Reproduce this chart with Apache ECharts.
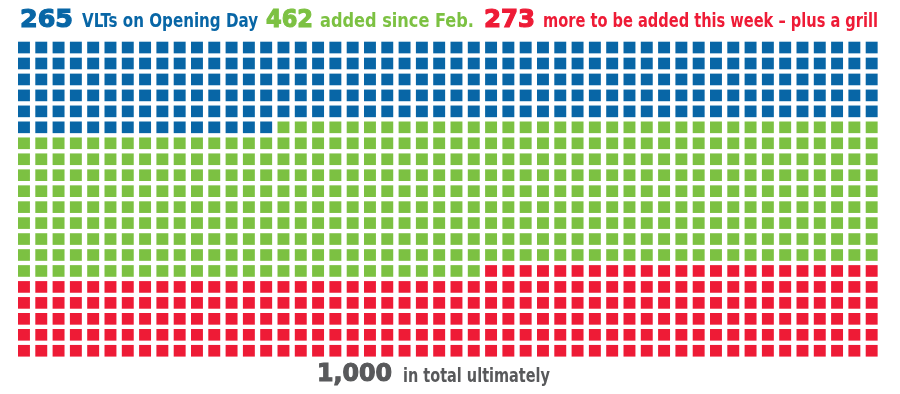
<!DOCTYPE html>
<html><head><meta charset="utf-8">
<script src="https://cdn.jsdelivr.net/npm/echarts@6/dist/echarts.min.js"></script>
<style>html,body{margin:0;padding:0;background:#fff}#c{width:900px;height:394px}</style>
</head><body><div id="c"></div>
<script>
// ---- data ----
const categories = ['VLTs on Opening Day', 'added since Feb.', 'more to be added this week – plus a grill'];
const counts = [265, 462, 273];
const totalLabel = '1,000';
const totalText = 'in total ultimately';
const columns = 50;

// ---- styles / layout ----
const colors = ['#0866a6', '#7cc142', '#ee1b36'];
const grey = '#58595b';
const NUM_FAMILY = 'DejaVu Sans';
const TXT_FAMILY = 'DejaVu Sans Condensed';
const NUM_SIZE = 25, TXT_SIZE = 19;
// [left x, target width] for number and text of each category in the heading
const headLayout = [[20, 53, 82, 176], [266, 47, 320, 154], [484, 51, 543, 335]];
const headBaseline = 29.2;
const footLayout = [317, 75, 403, 147];
const footBaseline = 383.5;

const cells = [];
let idx = 0;
counts.forEach((n, ci) => {
  for (let k = 0; k < n; k++) {
    cells.push([idx % columns, Math.floor(idx / columns), ci]);
    idx++;
  }
});
const rows = Math.ceil(idx / columns);

const mctx = document.createElement('canvas').getContext('2d');
function measure(text, size, family) {
  mctx.font = 'bold ' + size + 'px "' + family + '"';
  return mctx.measureText(text).width;
}
function textEl(text, left, width, baseline, size, family, color, heavy) {
  const w = measure(text, size, family);
  const style = {
    x: 0, y: 0, text: text, fill: color,
    font: 'bold ' + size + 'px "' + family + '"',
    fontFamily: family, fontWeight: 'bold', fontSize: size,
    textAlign: 'left', textVerticalAlign: 'middle', verticalAlign: 'middle'
  };
  if (heavy) { style.stroke = color; style.lineWidth = 1.2; }
  return {
    type: 'text', x: left, y: baseline - size * 0.36,
    scaleX: width / w, scaleY: 1, originX: 0, originY: 0,
    style: style
  };
}

const graphics = [];
counts.forEach((n, ci) => {
  const L = headLayout[ci];
  graphics.push(textEl(String(n), L[0], L[1], headBaseline, NUM_SIZE, NUM_FAMILY, colors[ci], true));
  graphics.push(textEl(categories[ci], L[2], L[3], headBaseline, TXT_SIZE, TXT_FAMILY, colors[ci], false));
});
graphics.push(textEl(totalLabel, footLayout[0], footLayout[1], footBaseline, NUM_SIZE, NUM_FAMILY, grey, true));
graphics.push(textEl(totalText, footLayout[2], footLayout[3], footBaseline, TXT_SIZE, TXT_FAMILY, grey, false));

const chart = echarts.init(document.getElementById('c'), null, {renderer: 'canvas'});
chart.setOption({
  animation: false,
  graphic: graphics,
  grid: {left: 18, top: 41.7, width: columns * 17.3, height: rows * 15.96},
  xAxis: {type: 'value', min: 0, max: columns, show: false},
  yAxis: {type: 'value', min: 0, max: rows, inverse: true, show: false},
  series: [{
    type: 'custom',
    data: cells,
    renderItem: function (params, api) {
      const c = api.value(0), r = api.value(1), ci = api.value(2);
      const p = api.coord([c, r]);
      const sz = api.size([1, 1]);
      return {
        type: 'rect',
        shape: {x: p[0], y: p[1], width: sz[0] * 0.69, height: sz[1] * 0.73},
        style: {fill: colors[ci]}
      };
    }
  }]
});
</script></body></html>
